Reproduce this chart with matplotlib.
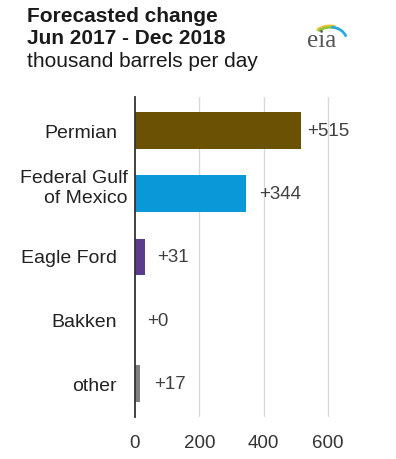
import numpy as np
import matplotlib.pyplot as plt
from matplotlib.patches import Arc
import matplotlib.transforms as mtransforms

# data
regions = ['Permian', 'Federal Gulf\nof Mexico', 'Eagle Ford', 'Bakken', 'other']
change = [515, 344, 31, 0, 17]
bar_colors = ['#6b5103', '#0a98d8', '#5b3b8c', '#6a6a6a', '#7f7f7f']
xticks = [0, 200, 400, 600]

# label tweaks (pixels) to follow the original layout
label_dx = [-18, -7, -18, -18, -18]
label_dy = [-2, 6, -1, -1, -2]
value_pad = [5, 10, 9, 9, 10]

plt.rcParams['font.family'] = ['Liberation Sans', 'DejaVu Sans']

fig = plt.figure(figsize=(3.96, 4.60), dpi=100)
ax = fig.add_axes([135/396, 1-418/460, (360-135)/396, (418-98)/460])

y = np.arange(len(regions))
ax.barh(y, change, height=0.58, color=bar_colors, zorder=3)
for yi, v, p in zip(y, change, value_pad):
    ax.annotate('+%d' % v, xy=(v, yi), xytext=(p, 0), textcoords='offset points',
                va='center', ha='left', fontsize=13.5, color='#404040')

ax.set_ylim(len(regions) - 0.5 + 0.03, -0.5 - 0.03)
ax.set_xlim(0, 700)
ax.set_yticks([])
# category labels, placed by hand
trans = mtransforms.blended_transform_factory(ax.transAxes, ax.transData)
for yi, name, dx, dy in zip(y, regions, label_dx, label_dy):
    off = mtransforms.ScaledTranslation(dx/100, dy/100, fig.dpi_scale_trans)
    ax.text(0, yi, name, transform=trans + off, ha='right', va='center',
            fontsize=14, color='#222222', linespacing=1.2, multialignment='right')

ax.set_xticks(xticks)
ax.set_xticklabels([str(t) for t in xticks], fontsize=13.5, color='#333333')
ax.tick_params(axis='both', length=0)
ax.tick_params(axis='x', pad=12)
for t in xticks[1:]:
    ax.axvline(t, color='#d9d9d9', lw=1, zorder=1)
for s in ['top', 'right', 'bottom']:
    ax.spines[s].set_visible(False)
ax.spines['left'].set_color('#333333')
ax.spines['left'].set_linewidth(1.3)
ax.spines['left'].set_zorder(4)

# titles
fig.text(27/396, 1-7/460, 'Forecasted change', fontsize=15, fontweight='bold',
         color='#1a1a1a', va='top')
fig.text(27/396, 1-29/460, 'Jun 2017 - Dec 2018', fontsize=15, fontweight='bold',
         color='#1a1a1a', va='top')
fig.text(27/396, 1-52/460, 'thousand barrels per day', fontsize=15,
         color='#1a1a1a', va='top')

# eia logo
lax = fig.add_axes([300/396, 1-52/460, 50/396, 42/460])
lax.set_xlim(0, 50)
lax.set_ylim(0, 42)
lax.axis('off')
lax.text(22, 0, 'eia', family=['Liberation Serif'], fontsize=18, color='#555555',
         ha='center', va='bottom')
for r, c, lw in [(19, '#f2c12e', 1.8), (17, '#8cc63f', 1.8)]:
    lax.add_patch(Arc((30, 10), 2*r, 2*r*0.8, theta1=70, theta2=140, color=c, lw=lw))
lax.add_patch(Arc((30, 10), 34, 28, theta1=15, theta2=85, color='#29a9e0', lw=2))

fig.savefig('out.png', dpi=100)
